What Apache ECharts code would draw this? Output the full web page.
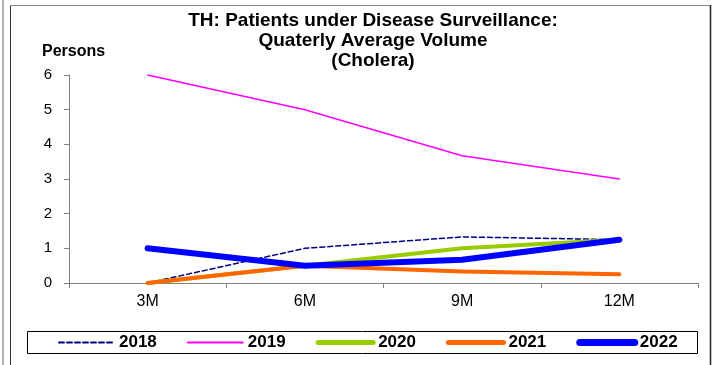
<!DOCTYPE html>
<html>
<head>
<meta charset="utf-8">
<script src="https://cdn.jsdelivr.net/npm/echarts@6/dist/echarts.min.js"></script>
<style>
  html, body { margin: 0; padding: 0; background: #fff; }
  #chart { width: 712px; height: 365px; }
</style>
</head>
<body>
<div id="chart"></div>
<script>
// Quarter cumulative periods
const categories = ['3M', '6M', '9M', '12M'];

// Average patients per quarter, by year
const y2018 = [0, 1, 1.33, 1.25];
const y2019 = [6, 5, 3.67, 3];
const y2020 = [0, 0.5, 1, 1.25];
const y2021 = [0, 0.5, 0.33, 0.25];
const y2022 = [1, 0.5, 0.67, 1.25];

const yTicks = [0, 1, 2, 3, 4, 5, 6];

const FONT = '"Liberation Sans", Arial, sans-serif';

function lineSeries(name, data, color, width, type) {
  return {
    name: name,
    type: 'line',
    data: data,
    symbol: 'none',
    showSymbol: false,
    animation: false,
    lineStyle: { color: color, width: width, type: type || 'solid', cap: 'round', join: 'round' },
    itemStyle: { color: color }
  };
}

function legendItem(name, width, type) {
  return {
    name: name,
    itemStyle: { opacity: 0 },
    lineStyle: { width: width, type: type || 'solid', cap: 'round' }
  };
}

const chart = echarts.init(document.getElementById('chart'), null, { renderer: 'canvas' });

chart.setOption({
  backgroundColor: '#ffffff',
  animation: false,
  title: {
    text: 'TH: Patients under Disease Surveillance:\nQuaterly Average Volume\n(Cholera)',
    left: 368,
    top: 6,
    textAlign: 'center',
    textStyle: { fontFamily: FONT, fontSize: 19, fontWeight: 'bold', color: '#000', lineHeight: 20 }
  },
  graphic: [
    { type: 'line', shape: { x1: 3, y1: 0, x2: 3, y2: 365 }, style: { stroke: '#9a9a9a', lineWidth: 1.5 } },
    { type: 'line', shape: { x1: 10.5, y1: 5, x2: 10.5, y2: 365 }, style: { stroke: '#333', lineWidth: 1 } },
    { type: 'line', shape: { x1: 10, y1: 5.5, x2: 710, y2: 5.5 }, style: { stroke: '#888', lineWidth: 1 } },
    { type: 'line', shape: { x1: 710.5, y1: 5, x2: 710.5, y2: 365 }, style: { stroke: '#222', lineWidth: 1.5 } },
    { type: 'rect', shape: { x: 27.5, y: 331.5, width: 670, height: 22 }, style: { fill: 'none', stroke: '#000', lineWidth: 1 } },
    { type: 'text', left: 42, top: 44, style: { text: 'Persons', font: 'bold 16px ' + FONT, fill: '#000' } }
  ],
  legend: {
    left: 58,
    top: 334,
    itemWidth: 55,
    itemHeight: 16,
    itemGap: 30,
    padding: 0,
    textStyle: { fontFamily: FONT, fontSize: 17, fontWeight: 'bold', color: '#000' },
    data: [
      legendItem('2018', 2, [5, 3]),
      legendItem('2019', 2),
      legendItem('2020', 5),
      legendItem('2021', 5),
      legendItem('2022', 7)
    ]
  },
  grid: { left: 69, right: 14, top: 75, bottom: 82, containLabel: false },
  xAxis: {
    type: 'category',
    data: categories,
    boundaryGap: true,
    axisLine: { lineStyle: { color: '#808080', width: 1 } },
    axisTick: { show: true, length: 5, lineStyle: { color: '#808080' } },
    axisLabel: { fontFamily: FONT, fontSize: 16, color: '#000', margin: 11 },
    splitLine: { show: false }
  },
  yAxis: {
    type: 'value',
    min: yTicks[0],
    max: yTicks[yTicks.length - 1],
    interval: 1,
    axisLine: { show: true, lineStyle: { color: '#808080', width: 1 } },
    axisTick: { show: true, length: 5, lineStyle: { color: '#808080' } },
    axisLabel: { fontFamily: FONT, fontSize: 15, color: '#000', margin: 17 },
    splitLine: { show: false }
  },
  series: [
    lineSeries('2018', y2018, '#000080', 1.5, [5, 3]),
    lineSeries('2019', y2019, '#ff00ff', 1.5),
    lineSeries('2020', y2020, '#99cc00', 4),
    lineSeries('2021', y2021, '#ff6600', 4),
    lineSeries('2022', y2022, '#0000ff', 6)
  ]
});
</script>
</body>
</html>
